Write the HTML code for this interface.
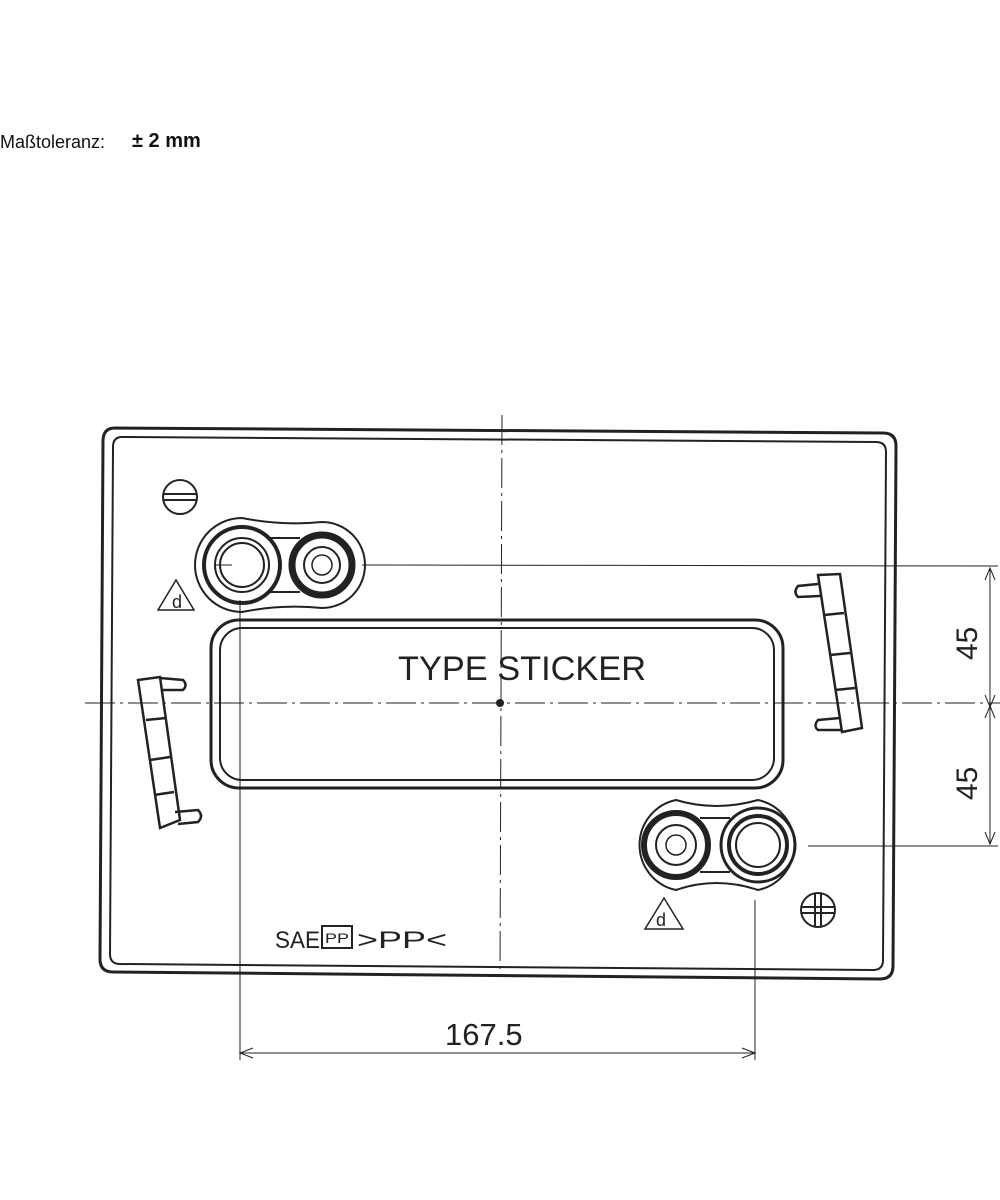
<!DOCTYPE html>
<html><head><meta charset="utf-8"><style>
body{margin:0;background:#fff;width:1000px;height:1200px;overflow:hidden;font-family:"Liberation Sans",sans-serif}
.t{position:absolute;top:132px;font-size:18px;color:#111}
</style></head><body>
<div class="t" style="left:0">Maßtoleranz:</div>
<div class="t" style="left:132px;font-size:20px;top:130px"><b>± 2 mm</b></div>
<svg width="1000" height="1200" style="position:absolute;left:0;top:0" font-family="Liberation Sans, sans-serif">
<g fill="none" stroke="#222">
<path d="M115 428 L883 433 Q896 433 896 446 L893 966 Q893 979 880 979 L113 972 Q100 972 100 959 L103 441 Q103 428 115 428 Z" stroke-width="3"/>
<path d="M122 437 L876 442 Q886 442 886 452 L883 960 Q883 970 873 970 L120 964 Q110 964 110 954 L113 447 Q113 437 122 437 Z" stroke-width="2"/>
<rect x="211" y="620" width="572" height="168" rx="28" stroke-width="3"/>
<rect x="220" y="628" width="554" height="152" rx="22" stroke-width="2"/>
<line x1="85" y1="703" x2="1000" y2="703" stroke-width="1" stroke-dasharray="30 5 3 5"/>
<line x1="502" y1="415" x2="500" y2="975" stroke-width="1" stroke-dasharray="30 5 3 5"/>
<path d="M242 518 A47 47 0 0 0 242 612 Q282 604 322 608 A43 43 0 0 0 322 522 Q282 526 242 518 Z" stroke-width="2"/>
<circle cx="242" cy="565" r="38" stroke-width="4"/>
<circle cx="242" cy="565" r="27" stroke-width="2"/>
<circle cx="242" cy="565" r="22" stroke-width="2"/>
<circle cx="322" cy="565" r="30" stroke-width="7"/>
<circle cx="322" cy="565" r="18" stroke-width="2"/>
<circle cx="322" cy="565" r="10" stroke-width="1.5"/>
<line x1="270" y1="538" x2="300" y2="538" stroke-width="2"/>
<line x1="270" y1="592" x2="300" y2="592" stroke-width="2"/>
<path d="M676 800 A46 46 0 0 0 676 890 Q716 876 758 890 A46 46 0 0 0 758 800 Q716 812 676 800 Z" stroke-width="2"/>
<circle cx="676" cy="845" r="32" stroke-width="6"/>
<circle cx="676" cy="845" r="20" stroke-width="2"/>
<circle cx="676" cy="845" r="10" stroke-width="1.5"/>
<circle cx="758" cy="845" r="37" stroke-width="3"/>
<circle cx="758" cy="845" r="29" stroke-width="4"/>
<circle cx="758" cy="845" r="22" stroke-width="2"/>
<line x1="700" y1="818" x2="730" y2="818" stroke-width="2"/>
<line x1="700" y1="872" x2="730" y2="872" stroke-width="2"/>
<g stroke-width="1">
<line x1="362" y1="565" x2="998" y2="566"/>
<line x1="808" y1="846" x2="998" y2="846"/>
<line x1="990" y1="568" x2="990" y2="844"/>
<line x1="215" y1="565" x2="232" y2="565"/>
<path d="M985 580 L990 568 L995 580 M985 695 L990 707 L995 695 M985 718 L990 706 L995 718 M985 832 L990 844 L995 832"/>
<line x1="240" y1="600" x2="240" y2="1060"/>
<line x1="755" y1="900" x2="755" y2="1060"/>
<line x1="240" y1="1053" x2="755" y2="1053"/>
<path d="M253 1048 L240 1053 L253 1058 M742 1048 L755 1053 L742 1058"/>
</g>
<g stroke-width="2.5">
<path d="M138 680 L160 677 L180 820 L160 828 Z"/>
<path d="M160 678 L183 680 Q188 685 183 690 L162 690"/>
<path d="M175 812 L198 810 Q204 816 198 822 L178 824"/>
<path d="M146 720 L166 718 M150 760 L170 757 M154 795 L174 792"/>
<path d="M818 575 L840 574 L862 728 L842 732 Z"/>
<path d="M818 584 L798 586 Q793 592 798 597 L820 596"/>
<path d="M840 718 L818 720 Q813 726 818 730 L842 730"/>
<path d="M824 615 L844 613 M830 655 L850 653 M835 690 L855 688"/>
</g>
<circle cx="180" cy="497" r="17" stroke-width="2"/>
<path d="M164 494 H196 M164 500 H196" stroke-width="2"/>
<circle cx="818" cy="910" r="17" stroke-width="2"/>
<path d="M801 907 H835 M801 913 H835 M815 893 V927 M821 893 V927" stroke-width="2"/>
<path d="M158 610 L176 580 L194 610 Z" stroke-width="1.5"/>
<path d="M645 929 L664 898 L683 929 Z" stroke-width="1.5"/>
<rect x="322" y="926" width="30" height="22" stroke-width="2"/>
</g>
<g fill="#222">
<circle cx="500" cy="703" r="4"/>
<text x="172" y="608" font-size="18">d</text>
<text x="656" y="926" font-size="18">d</text>
<text x="398" y="680" font-size="34" textLength="248" lengthAdjust="spacingAndGlyphs">TYPE STICKER</text>
<text x="275" y="948" font-size="24" textLength="45" lengthAdjust="spacingAndGlyphs">SAE</text>
<text x="325" y="943" font-size="14" textLength="24" lengthAdjust="spacingAndGlyphs">PP</text>
<text x="357" y="948" font-size="24" textLength="90" lengthAdjust="spacingAndGlyphs">&gt;PP&lt;</text>
<text x="445" y="1045" font-size="31">167.5</text>
<text transform="translate(977 660) rotate(-90)" font-size="30">45</text>
<text transform="translate(977 800) rotate(-90)" font-size="30">45</text>
</g>
</svg>
</body></html>
